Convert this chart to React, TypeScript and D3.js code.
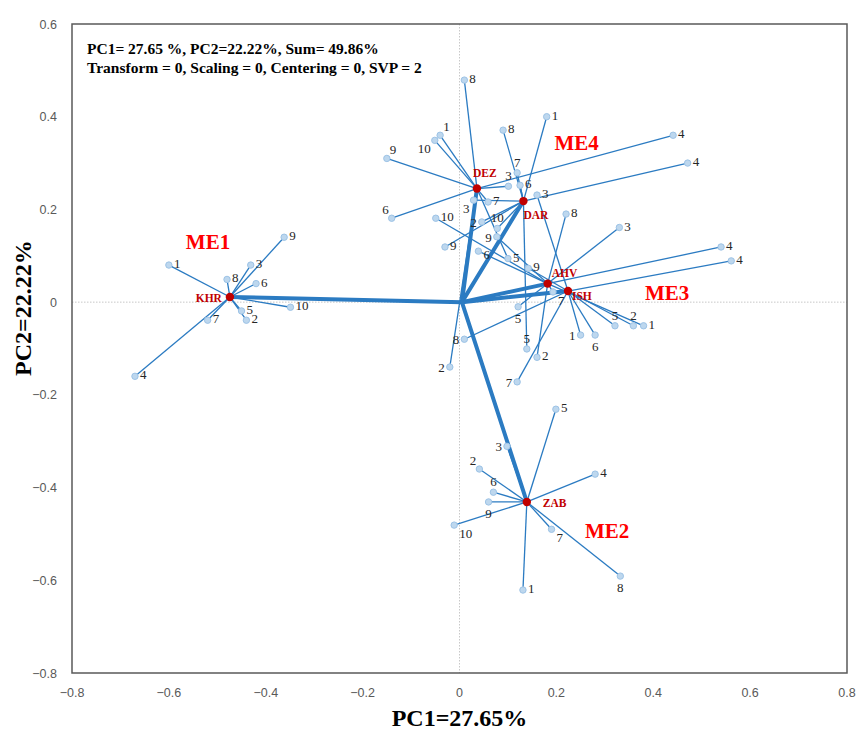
import { useEffect, useRef } from "react";
import * as d3 from "d3";

// environments (end points of the thick vectors)
const envNames = ["KHR", "DEZ", "DAR", "AHV", "ISH", "ZAB"];
const envX = [-0.474, 0.036, 0.132, 0.182, 0.224, 0.139];
const envY = [0.011, 0.245, 0.218, 0.040, 0.024, -0.431];
const origin = [0.005, 0.0];

// genotype ids, and the score of each genotype (1..10) in each environment
const genotypes = [1, 2, 3, 4, 5, 6, 7, 8, 9, 10];
const khrX = [-0.600, -0.440, -0.431, -0.670, -0.450, -0.420, -0.520, -0.480, -0.362, -0.349];
const khrY = [0.080, -0.039, 0.080, -0.160, -0.019, 0.040, -0.039, 0.049, 0.140, -0.011];
const dezX = [-0.040, -0.020, 0.101, 0.441, 0.100, -0.140, 0.059, 0.010, -0.150, -0.051];
const dezY = [0.360, -0.140, 0.250, 0.360, 0.094, 0.181, 0.216, 0.479, 0.310, 0.349];
const darX = [0.180, 0.046, 0.029, 0.471, 0.139, 0.125, 0.119, 0.090, -0.030, 0.078];
const darY = [0.400, 0.173, 0.220, 0.300, -0.101, 0.252, 0.279, 0.371, 0.119, 0.159];
const ahvX = [0.380, 0.160, 0.330, 0.540, 0.121, 0.039, 0.193, 0.220, 0.077, -0.049];
const ahvY = [-0.051, -0.119, 0.161, 0.119, -0.010, 0.110, 0.022, 0.190, 0.141, 0.181];
const ishX = [0.250, 0.359, 0.160, 0.561, 0.321, 0.280, 0.119, 0.010, 0.142, null];
const ishY = [-0.071, -0.051, 0.231, 0.089, -0.051, -0.071, -0.172, -0.080, 0.073, null];
const zabX = [0.131, 0.041, 0.098, 0.280, 0.199, 0.070, 0.190, 0.332, 0.060, -0.011];
const zabY = [-0.621, -0.360, -0.311, -0.371, -0.231, -0.410, -0.490, -0.591, -0.431, -0.481];

// mega-environment annotations
const megaNames = ["ME1", "ME2", "ME3", "ME4"];
const megaX = [-0.565, 0.259, 0.383, 0.196];
const megaY = [0.114, -0.508, 0.004, 0.328];

const xTicks = [-0.8, -0.6, -0.4, -0.2, 0, 0.2, 0.4, 0.6, 0.8];
const yTicks = [0.6, 0.4, 0.2, 0, -0.2, -0.4, -0.6, -0.8];

const infoLines = [
  "PC1= 27.65 %, PC2=22.22%, Sum= 49.86%",
  "Transform = 0, Scaling = 0, Centering = 0, SVP = 2",
];
const xTitle = "PC1=27.65%";
const yTitle = "PC2=22.22%";

export default function App() {
  const svgRef = useRef<SVGSVGElement | null>(null);
  const width = 857;
  const height = 731;

  useEffect(() => {
    if (!svgRef.current) return;
    const svg = d3.select(svgRef.current);
    svg.selectAll("*").remove();

    const serif = "'Liberation Serif', 'Times New Roman', serif";
    const sans = "'Liberation Sans', Arial, sans-serif";
    const blue = "#2b7bc2";

    const left = 72, right = 847, top = 24, bottom = 673;
    const x = d3.scaleLinear([-0.8, 0.8], [left, right]);
    const y = d3.scaleLinear([-0.8, 0.6], [bottom, top]);

    // zero reference lines (dotted)
    svg.append("line")
      .attr("x1", x(0)).attr("x2", x(0)).attr("y1", top).attr("y2", bottom)
      .attr("stroke", "#c8c8c8").attr("stroke-dasharray", "1.5,1.5");
    svg.append("line")
      .attr("x1", left).attr("x2", right).attr("y1", y(0)).attr("y2", y(0))
      .attr("stroke", "#c8c8c8").attr("stroke-dasharray", "1.5,1.5");

    // frame
    svg.append("rect")
      .attr("x", left).attr("y", top)
      .attr("width", right - left).attr("height", bottom - top)
      .attr("fill", "none").attr("stroke", "#595959").attr("stroke-width", 1.5);

    // tick labels
    svg.append("g").selectAll("text").data(xTicks).join("text")
      .attr("x", d => x(d)).attr("y", 697)
      .attr("text-anchor", "middle")
      .attr("font-family", sans).attr("font-size", 12.5).attr("fill", "#595959")
      .text(d => d3.format("")(d));
    svg.append("g").selectAll("text").data(yTicks).join("text")
      .attr("x", 57).attr("y", d => y(d) + 4.5)
      .attr("text-anchor", "end")
      .attr("font-family", sans).attr("font-size", 12.5).attr("fill", "#595959")
      .text(d => d3.format("")(d));

    // axis titles
    svg.append("text")
      .attr("x", x(0)).attr("y", 726)
      .attr("text-anchor", "middle")
      .attr("font-family", serif).attr("font-weight", "bold").attr("font-size", 24)
      .text(xTitle);
    svg.append("text")
      .attr("transform", `translate(31,${y(0) + 6}) rotate(-90)`)
      .attr("text-anchor", "middle")
      .attr("font-family", serif).attr("font-weight", "bold").attr("font-size", 24)
      .text(yTitle);

    // info text in the top-left corner
    svg.append("g").selectAll("text").data(infoLines).join("text")
      .attr("x", 87).attr("y", (d, i) => 54 + i * 19)
      .attr("font-family", serif).attr("font-weight", "bold").attr("font-size", 15.5)
      .text(d => d);

    // genotype points per environment
    const genoX = [khrX, dezX, darX, ahvX, ishX, zabX];
    const genoY = [khrY, dezY, darY, ahvY, ishY, zabY];
    const points = envNames.flatMap((env, e) =>
      genotypes.map((g, i) => ({ env, e, g, x: genoX[e][i], y: genoY[e][i] }))
        .filter(p => p.x !== null && p.y !== null)
    );

    // thin lines: environment -> genotype
    svg.append("g").selectAll("line").data(points).join("line")
      .attr("x1", d => x(envX[d.e])).attr("y1", d => y(envY[d.e]))
      .attr("x2", d => x(d.x as number)).attr("y2", d => y(d.y as number))
      .attr("stroke", blue).attr("stroke-width", 1.3);

    // thick vectors: origin -> environment
    svg.append("g").selectAll("line").data(envNames).join("line")
      .attr("x1", x(origin[0])).attr("y1", y(origin[1]))
      .attr("x2", (d, i) => x(envX[i])).attr("y2", (d, i) => y(envY[i]))
      .attr("stroke", blue).attr("stroke-width", 4).attr("stroke-linecap", "round");

    // genotype markers
    svg.append("g").selectAll("circle").data(points).join("circle")
      .attr("cx", d => x(d.x as number)).attr("cy", d => y(d.y as number))
      .attr("r", 3.2)
      .attr("fill", "#bdd7ee").attr("stroke", "#9dc3e6").attr("stroke-width", 1);

    // genotype labels, placement side chosen per point to avoid overlaps
    const sides: Record<string, string[]> = {
      KHR: ["r", "r", "r", "r", "r", "r", "r", "r", "r", "r"],
      DEZ: ["tr", "l", "t", "r", "r", "tl", "r", "r", "tr", "bl"],
      DAR: ["r", "l", "bl", "r", "t", "r", "t", "r", "r", "t"],
      AHV: ["r", "r", "r", "r", "b", "rd", "rb", "r", "l", "r"],
      ISH: ["l", "t", "r", "r", "t", "b", "l", "l", "r", "r"],
      ZAB: ["r", "tl", "l", "r", "r", "t", "rb", "b", "b", "rb"],
    };
    const offs: Record<string, [number, number, string]> = {
      r: [5, 3, "start"], l: [-5, 5, "end"], t: [0, -6, "middle"], b: [0, 16, "middle"],
      tr: [3, -4, "start"], tl: [-3, -4, "end"], bl: [-4, 13, "end"], rb: [5, 13, "start"],
      rd: [5, 8, "start"],
    };
    svg.append("g").selectAll("text").data(points).join("text")
      .attr("x", d => x(d.x as number) + offs[sides[d.env][d.g - 1]][0])
      .attr("y", d => y(d.y as number) + offs[sides[d.env][d.g - 1]][1])
      .attr("text-anchor", d => offs[sides[d.env][d.g - 1]][2])
      .attr("font-family", serif).attr("font-size", 13).attr("fill", "#262626")
      .text(d => d.g);

    // environment markers and labels
    svg.append("g").selectAll("circle").data(envNames).join("circle")
      .attr("cx", (d, i) => x(envX[i])).attr("cy", (d, i) => y(envY[i]))
      .attr("r", 4.2).attr("fill", "#c00000");
    const envOffs: Record<string, [number, number, string]> = {
      KHR: [-8, 5, "end"], DEZ: [-4, -12, "start"], DAR: [0, 18, "start"],
      AHV: [4, -7, "start"], ISH: [4, 9, "start"], ZAB: [16, 5, "start"],
    };
    svg.append("g").selectAll("text").data(envNames).join("text")
      .attr("x", (d, i) => x(envX[i]) + envOffs[d][0])
      .attr("y", (d, i) => y(envY[i]) + envOffs[d][1])
      .attr("text-anchor", d => envOffs[d][2])
      .attr("font-family", serif).attr("font-weight", "bold").attr("font-size", 11.5)
      .attr("fill", "#c00000")
      .text(d => d);

    // mega-environment labels
    svg.append("g").selectAll("text").data(megaNames).join("text")
      .attr("x", (d, i) => x(megaX[i])).attr("y", (d, i) => y(megaY[i]))
      .attr("font-family", serif).attr("font-weight", "bold").attr("font-size", 21)
      .attr("fill", "#ff0000")
      .text(d => d);

    return () => {
      svg.selectAll("*").remove();
    };
  }, []);

  return (
    <svg
      ref={svgRef}
      width={width}
      height={height}
      viewBox={`0 0 ${width} ${height}`}
      style={{ position: "absolute", left: 0, top: 0, background: "#fff" }}
    />
  );
}
